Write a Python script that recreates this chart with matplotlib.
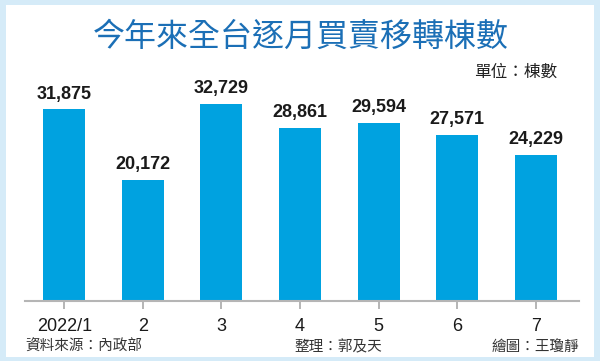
import matplotlib.pyplot as plt
from matplotlib.patches import Rectangle

plt.rcParams['font.family'] = ['Liberation Sans', 'Noto Sans CJK TC', 'DejaVu Sans']

months = ['2022/1', '2', '3', '4', '5', '6', '7']
counts = [31875, 20172, 32729, 28861, 29594, 27571, 24229]

title = '今年來全台逐月買賣移轉棟數'
unit = '單位：棟數'
source = '資料來源：內政部'
editor = '整理：郭及天'
artist = '繪圖：王瓊靜'

bar_color = '#00a2e0'
frame_color = '#d5ebf8'
title_color = '#1b6fb6'
cjk = ['Noto Sans CJK TC', 'DejaVu Sans']

fig = plt.figure(figsize=(6, 3.61), dpi=100)
fig.patch.set_facecolor(frame_color)

# white inner panel
W, H = 600, 361
fig.patches.append(Rectangle((6 / W, 4 / H), 588 / W, 352 / H, transform=fig.transFigure,
                             facecolor='white', edgecolor='none', zorder=0))

ax = fig.add_axes([25 / W, 60 / H, 554 / W, 201 / H])
ax.set_facecolor('none')
ax.set_zorder(2)

x = range(len(months))
ax.bar(x, counts, width=0.535, color=bar_color, zorder=2)
for i, v in enumerate(counts):
    ax.annotate(f'{v:,}', (i, v), xytext=(0, 5), textcoords='offset points',
                ha='center', va='bottom', fontsize=13, fontweight='bold', color='#1a1a1a')

ax.set_xlim(-0.5, 6.55)
ax.set_ylim(0, 33450)
ax.set_xticks(list(x))
ax.set_xticklabels(months, fontsize=13, color='#1a1a1a')
ax.tick_params(axis='x', length=6, width=1.4, color='#b5b5b5', pad=6)
ax.set_yticks([])
for s in ['top', 'right', 'left']:
    ax.spines[s].set_visible(False)
ax.spines['bottom'].set_color('#b5b5b5')
ax.spines['bottom'].set_linewidth(1.5)

fig.text(301 / W, 1 - 37 / H, title, ha='center', va='center', fontsize=23,
         color=title_color, family=cjk, fontweight='medium', zorder=3)
fig.text(557 / W, 1 - 72 / H, unit, ha='right', va='center', fontsize=12,
         color='#222222', family=cjk, zorder=3)
fig.text(25 / W, 1 - 347 / H, source, ha='left', va='center', fontsize=10.5,
         color='#333333', family=cjk, zorder=3)
fig.text(338 / W, 1 - 347 / H, editor, ha='center', va='center', fontsize=10.5,
         color='#333333', family=cjk, zorder=3)
fig.text(579 / W, 1 - 347 / H, artist, ha='right', va='center', fontsize=10.5,
         color='#333333', family=cjk, zorder=3)

fig.savefig('out.png', dpi=100, facecolor=fig.get_facecolor())
